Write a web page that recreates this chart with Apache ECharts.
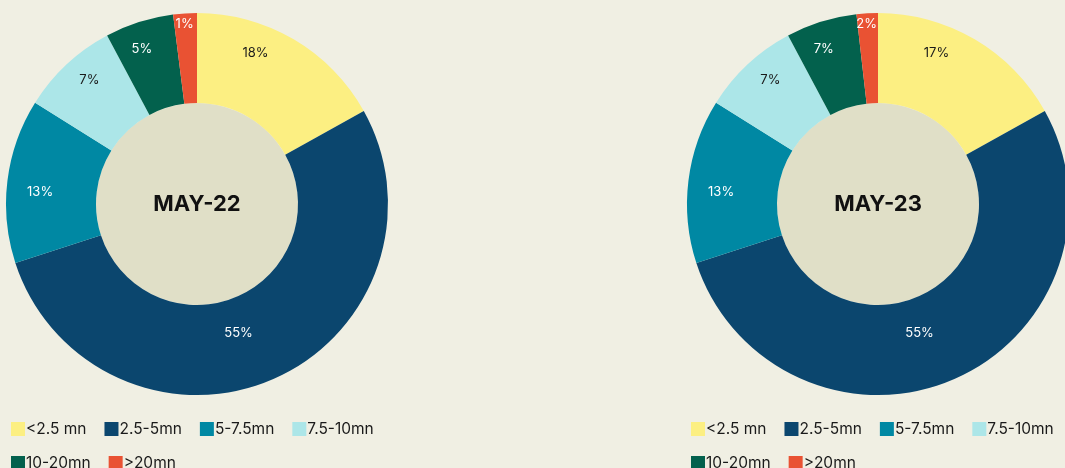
<!DOCTYPE html>
<html>
<head>
<meta charset="utf-8">
<script src="https://cdn.jsdelivr.net/npm/echarts@6/dist/echarts.min.js"></script>
<style>
  html, body { margin: 0; padding: 0; background: #f0efe3; }
  #chart { width: 1065px; height: 468px; }
</style>
</head>
<body>
<div id="chart"></div>
<script>
const categories = ['<2.5 mn', '2.5-5mn', '5-7.5mn', '7.5-10mn', '10-20mn', '>20mn'];
const may22Values = [16.9, 53.1, 13.9, 8.3, 5.8, 2.0];
const may22Labels = ['18%', '55%', '13%', '7%', '5%', '1%'];
const may23Values = [16.9, 53.1, 13.9, 8.3, 6.0, 1.8];
const may23Labels = ['17%', '55%', '13%', '7%', '7%', '2%'];

const colors = ['#fcef82', '#0b466e', '#0088a3', '#ace6e8', '#03614d', '#e95233'];
const labelColors = ['#1a1a1a', '#ffffff', '#ffffff', '#1a1a1a', '#ffffff', '#ffffff'];
// nudge labels to where the original puts them
const labelShift = [[-17, -22], [-18, -7], [-9, 6], [-6, -15], [-10, -13], [-3, -31]];

const font = 'Inter, "Noto Sans", sans-serif';

const donut = (values, labels, cx) => ({
  type: 'pie',
  center: [cx, 204],
  radius: [101, 191],
  startAngle: 90,
  clockwise: true,
  silent: true,
  itemStyle: { borderWidth: 0 },
  label: {
    show: true,
    position: 'inside',
    fontFamily: font,
    fontSize: 13,
    formatter: p => labels[p.dataIndex]
  },
  labelLine: { show: false },
  labelLayout: p => ({ dx: labelShift[p.dataIndex][0], dy: labelShift[p.dataIndex][1] }),
  data: categories.map((c, i) => ({
    name: c,
    value: values[i],
    itemStyle: { color: colors[i] },
    label: { color: labelColors[i] }
  }))
});

const hub = (title, cx) => ({
  type: 'pie',
  center: [cx, 204],
  radius: [0, 101],
  silent: true,
  itemStyle: { color: '#e0dfc7', borderWidth: 0 },
  label: {
    show: true,
    position: 'center',
    formatter: title,
    fontFamily: font,
    fontSize: 22,
    fontWeight: 'bold',
    color: '#111111',
    padding: [0, 0, 4, 0]
  },
  labelLine: { show: false },
  data: [{ name: title, value: 1 }]
});

const legendFor = left => ({
  data: categories,
  left: left,
  top: 421,
  width: 400,
  padding: 0,
  itemWidth: 14,
  itemHeight: 14,
  itemGap: 18,
  icon: 'rect',
  selectedMode: false,
  textStyle: { fontFamily: font, fontSize: 15.5, color: '#1a1a1a', padding: [0, 0, 0, -4] }
});

const chart = echarts.init(document.getElementById('chart'));
chart.setOption({
  backgroundColor: '#f0efe3',
  animation: false,
  color: colors,
  legend: [legendFor(11), legendFor(691)],
  series: [
    hub('MAY-22', 197),
    donut(may22Values, may22Labels, 197),
    hub('MAY-23', 878),
    donut(may23Values, may23Labels, 878)
  ]
});
</script>
</body>
</html>
